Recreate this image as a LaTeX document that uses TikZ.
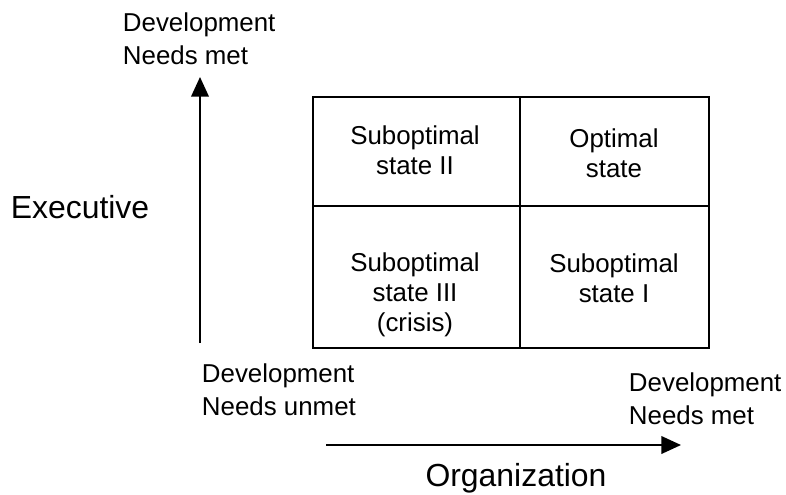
\documentclass[tikz,border=0pt]{standalone}
\usepackage{fontspec}
\setmainfont{Liberation Sans}
\usetikzlibrary{%
  arrows.meta,%
  positioning%
}

\begin{document}
\begin{tikzpicture}
[x=0.025cm, y=-0.025cm, line width=1.4pt,
state/.style={align=center, inner sep=0pt, font=\fontsize{18.4}{21.3}\selectfont},
needs/.style={align=left, anchor=west, inner sep=0pt, font=\fontsize{18.4}{23.5}\selectfont},
axis/.style={inner sep=0pt, font=\fontsize{22.7}{26}\selectfont},
axisarrow/.style={-{Triangle[length=14pt, width=12.5pt]}}
]
\useasboundingbox (0,0) rectangle (786,494);

% matrix of the four states
\coordinate (nw) at (313,97);
\coordinate (se) at (709,348);
\draw (nw) rectangle (se);
\draw (520,97) -- (520,348);
\draw (313,206) -- (709,206);

\node[state] (subtwo) at (415,150) {Suboptimal\\state II};
\node[state] (optimal) at (614,153) {Optimal\\state};
\node[state] (subthree) at (415,295) {Suboptimal\\state III\\(crisis)};
\node[state] (subone) at (614,278) {Suboptimal\\state I};

% executive axis
\coordinate (vstart) at (200,343);
\coordinate (vend) at (200,77);
\draw[axisarrow] (vstart) -- (vend);
\node[axis] (executive) at (80,207) {Executive};
\node[needs] (vtop) at (122,39) {Development\\Needs met};

% organization axis
\coordinate (hstart) at (326,445);
\coordinate (hend) at (681,445);
\draw[axisarrow] (hstart) -- (hend);
\node[axis] (organization) at (516,478) {Organization};
\node[needs] (origin) at (201,390) {Development\\Needs unmet};
\node[needs] (hright) at (628,399) {Development\\Needs met};
\end{tikzpicture}
\end{document}
